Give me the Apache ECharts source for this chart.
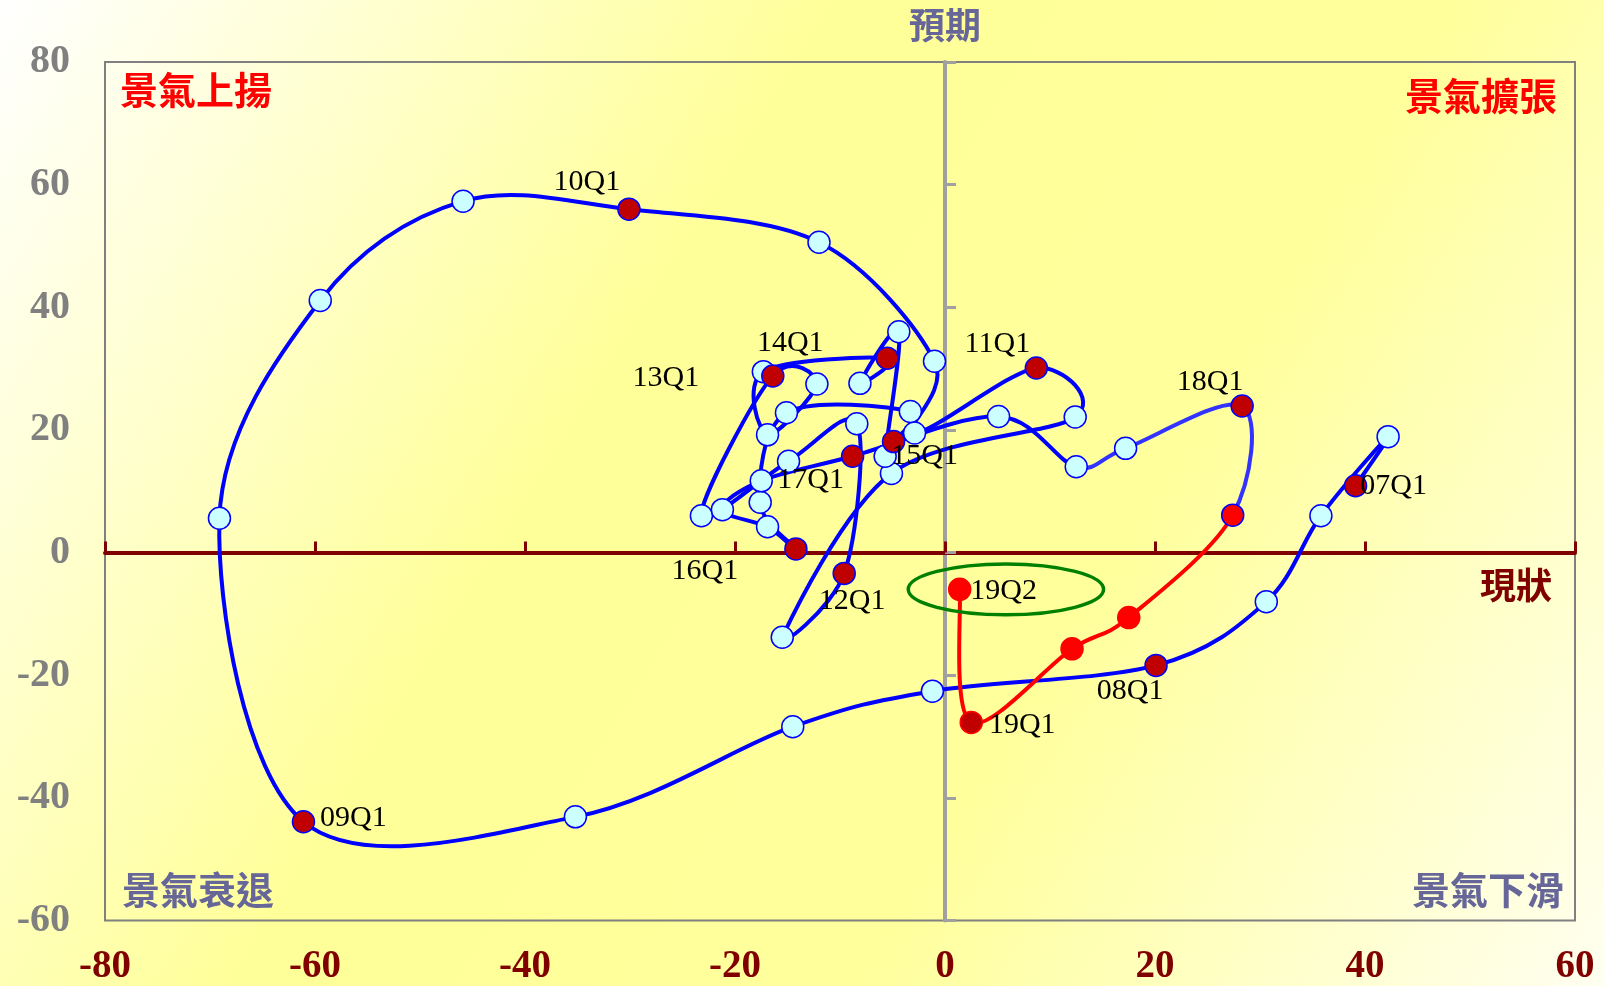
<!DOCTYPE html>
<html>
<head>
<meta charset="utf-8">
<title>景氣循環圖</title>
<script src="https://cdn.jsdelivr.net/npm/echarts@6/dist/echarts.min.js"></script>
<style>
  html, body { margin: 0; padding: 0; }
  #cycleChart { width: 1604px; height: 986px; }
</style>
</head>
<body>
<div id="cycleChart"></div>
<script>
// 季別
const quarters = [
  '07Q1', '07Q2', '07Q3', '07Q4', '08Q1', '08Q2', '08Q3', '08Q4',
  '09Q1', '09Q2', '09Q3', '09Q4', '10Q1', '10Q2', '10Q3', '10Q4',
  '11Q1', '11Q2', '11Q3', '11Q4', '12Q1', '12Q2', '12Q3', '12Q4',
  '13Q1', '13Q2', '13Q3', '13Q4', '14Q1', '14Q2', '14Q3', '14Q4',
  '15Q1', '15Q2', '15Q3', '15Q4', '16Q1', '16Q2', '16Q3', '16Q4',
  '17Q1', '17Q2', '17Q3', '17Q4', '18Q1', '18Q2', '18Q3', '18Q4',
  '19Q1', '19Q2'
];
// 現狀 (x)
const currentState = [
  39.1, 42.2, 35.8, 30.6, 20.1, -1.2, -14.5, -35.2,
  -61.1, -69.1, -59.5, -45.9, -30.1, -12.0, -1.0, -2.9,
  8.7, 12.4, -5.1, -15.5, -9.6, -8.4, -14.9, -23.2,
  -16.4, -12.2, -16.9, -17.3, -5.5, -8.1, -4.4, -5.7,
  -4.9, -3.3, -15.1, -17.6, -14.2, -16.9, -21.2, -17.5,
  -8.8, 5.1, 12.5, 17.2, 28.3, 27.4, 17.5, 12.1,
  2.5, 1.4
];
// 預期 (y)
const expectation = [
  10.9, 18.9, 6.0, -8.0, -18.4, -22.6, -28.4, -43.1,
  -43.9, 5.6, 41.1, 57.3, 56.0, 50.6, 31.2, 19.5,
  30.1, 22.1, 12.9, -13.8, -3.4, 21.0, 14.9, 6.0,
  28.8, 27.5, 19.2, 29.5, 31.7, 27.6, 36.0, 15.7,
  18.1, 23.0, 22.8, 8.2, 0.6, 4.2, 7.0, 11.7,
  15.7, 22.2, 14.0, 17.0, 23.9, 6.1, -10.6, -15.7,
  -27.7, -6.0
];
// 軸範圍
const xRange = [-80, 60];
const yRange = [-60, 80];
const tickStep = 20;
// 19Q2 圈選 (中心, 半徑)
const ringCenter = [5.8, -6.0];
const ringRadius = [9.3, 4.15];

const cycleChart = echarts.init(document.getElementById('cycleChart'));

const redFrom = quarters.indexOf('18Q2');
const paleFrom = quarters.indexOf('17Q3');
const points = quarters.map((q, i) => [currentState[i], expectation[i], q]);
const xy = points.map(p => [p[0], p[1]]);

// 標籤位置 (相對點中心)
const labelOffset = {
  '07Q1': [38, 0], '08Q1': [-26, 26], '09Q1': [50, -4], '10Q1': [-42, -27],
  '11Q1': [-39, -24], '12Q1': [8, 28], '13Q1': [-107, 2], '14Q1': [-97, -15],
  '15Q1': [31, 15], '16Q1': [-91, 22], '17Q1': [-42, 24], '18Q1': [-32, -24],
  '19Q1': [51, 3], '19Q2': [44, 2]
};

const serifFont = 'Liberation Serif';
const cjkFont = 'Noto Sans CJK TC';

const lightData = points.filter((p, i) => i < redFrom && !p[2].endsWith('Q1'));
const darkData = points.filter(p => p[2].endsWith('Q1')).map(p => ({
  value: p,
  itemStyle: p[2] === '19Q1' ? { borderColor: '#FF0000' } : undefined,
  label: { offset: labelOffset[p[2]] }
}));
const redData = points.slice(redFrom).filter(p => !p[2].endsWith('Q1')).map(p => ({
  value: p,
  itemStyle: p[2] === '18Q2' ? { borderColor: '#0000FF' } : undefined,
  label: p[2] === '19Q2' ? { show: true, offset: labelOffset[p[2]] } : undefined
}));

const pointLabel = {
  show: true,
  position: 'inside',
  formatter: params => params.value[2],
  color: '#000',
  fontFamily: serifFont,
  fontSize: 30
};

function segmentColor (i) {
  if (i >= redFrom) return '#FF0000';
  if (i >= paleFrom) return '#3333FF';
  return '#0000FF';
}

// 平滑曲線 (每段一條三次貝茲, 與 Excel 平滑線相同的做法)
function renderPath (params, api) {
  const i = params.dataIndex;
  const last = xy.length - 1;
  if (i >= last) return { type: 'group', children: [] };
  const at = k => api.coord(xy[Math.max(0, Math.min(last, k))]);
  const p0 = at(i - 1), p1 = at(i), p2 = at(i + 1), p3 = at(i + 2);
  return {
    type: 'bezierCurve',
    shape: {
      x1: p1[0], y1: p1[1], x2: p2[0], y2: p2[1],
      cpx1: p1[0] + (p2[0] - p0[0]) / 6, cpy1: p1[1] + (p2[1] - p0[1]) / 6,
      cpx2: p2[0] - (p3[0] - p1[0]) / 6, cpy2: p2[1] - (p3[1] - p1[1]) / 6
    },
    style: { fill: 'none', stroke: segmentColor(i), lineWidth: 4, lineCap: 'round' }
  };
}

function cornerText (text, x, y, color) {
  return {
    type: 'text', x: x, y: y, z: 10,
    style: {
      text: text, fill: color, align: 'center', verticalAlign: 'middle',
      font: 'bold 38px "' + cjkFont + '"'
    }
  };
}

const option = {
  animation: false,
  backgroundColor: {
    type: 'linear', x: 0, y: 0, x2: 1, y2: 1,
    colorStops: [
      { offset: 0, color: '#FFFFFF' },
      { offset: 0.38, color: '#FFFF99' },
      { offset: 0.66, color: '#FFFF9C' },
      { offset: 1, color: '#FFFFF0' }
    ]
  },
  grid: {
    left: 105, right: 29, top: 62, bottom: 65,
    show: true, borderColor: '#808080', borderWidth: 2,
    backgroundColor: 'transparent'
  },
  xAxis: [{
    type: 'value', min: xRange[0], max: xRange[1], interval: tickStep,
    position: 'bottom',
    axisLine: { onZero: true, onZeroAxisIndex: 0, lineStyle: { color: '#800000', width: 4 } },
    axisTick: { inside: true, length: 11, lineStyle: { color: '#800000', width: 3 } },
    axisLabel: { show: false },
    splitLine: { show: false }
  }, {
    type: 'value', min: xRange[0], max: xRange[1], interval: tickStep,
    position: 'bottom',
    axisLine: { show: false, onZero: false },
    axisTick: { show: false },
    axisLabel: {
      color: '#800000', fontFamily: serifFont, fontWeight: 'bold',
      fontSize: 39, margin: 46, verticalAlign: 'middle'
    },
    splitLine: { show: false }
  }],
  yAxis: [{
    type: 'value', min: yRange[0], max: yRange[1], interval: tickStep,
    position: 'left',
    axisLine: { onZero: true, onZeroAxisIndex: 0, lineStyle: { color: '#A0A0A0', width: 4 } },
    axisTick: { inside: true, length: 11, lineStyle: { color: '#A0A0A0', width: 3 } },
    axisLabel: { show: false },
    splitLine: { show: false }
  }, {
    type: 'value', min: yRange[0], max: yRange[1], interval: tickStep,
    position: 'left',
    axisLine: { show: false, onZero: false },
    axisTick: { show: false },
    axisLabel: {
      color: '#808080', fontFamily: serifFont, fontWeight: 'bold',
      fontSize: 40, margin: 35
    },
    splitLine: { show: false }
  }],
  graphic: [
    {
      type: 'text', x: 945, y: 25, z: 10,
      style: { text: '預期', fill: '#666699', align: 'center', verticalAlign: 'middle', font: 'bold 36px "' + cjkFont + '"' }
    },
    {
      type: 'text', x: 1516, y: 585, z: 10,
      style: { text: '現狀', fill: '#800000', align: 'center', verticalAlign: 'middle', font: 'bold 36px "' + cjkFont + '"' }
    },
    cornerText('景氣上揚', 196, 90, '#FF0000'),
    cornerText('景氣擴張', 1481, 96, '#FF0000'),
    cornerText('景氣衰退', 198, 890, '#666699'),
    cornerText('景氣下滑', 1488, 890, '#666699')
  ],
  series: [{
    name: '軌跡',
    type: 'custom',
    data: xy,
    encode: { x: 0, y: 1 },
    renderItem: renderPath,
    z: 2
  }, {
    name: '季',
    type: 'scatter',
    data: lightData,
    symbolSize: 22,
    itemStyle: { color: '#CCFFFF', borderColor: '#0000FF', borderWidth: 1.5, opacity: 1 },
    z: 3
  }, {
    name: '近期季',
    type: 'scatter',
    data: redData,
    symbolSize: 22,
    itemStyle: { color: '#FF0000', borderColor: '#FF0000', borderWidth: 1.5, opacity: 1 },
    label: Object.assign({}, pointLabel, { show: false }),
    z: 4
  }, {
    name: '第一季',
    type: 'scatter',
    data: darkData,
    symbolSize: 22,
    itemStyle: { color: '#C00000', borderColor: '#0000FF', borderWidth: 1.5, opacity: 1 },
    label: pointLabel,
    z: 5
  }, {
    name: '圈選',
    type: 'custom',
    data: [[ringCenter[0], ringCenter[1], ringRadius[0], ringRadius[1]]],
    encode: { x: 0, y: 1 },
    renderItem: function (params, api) {
      const c = api.coord([api.value(0), api.value(1)]);
      const s = api.size([api.value(2), api.value(3)]);
      return {
        type: 'ellipse',
        shape: { cx: c[0], cy: c[1], rx: s[0], ry: s[1] },
        style: { fill: 'none', stroke: '#008000', lineWidth: 3.5 }
      };
    },
    z: 6
  }]
};

cycleChart.setOption(option);
</script>
</body>
</html>
